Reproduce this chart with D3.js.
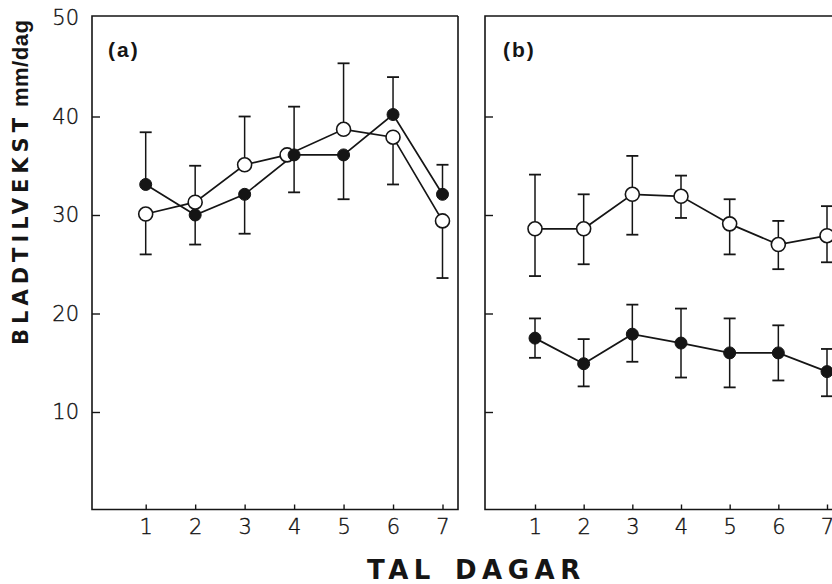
<!DOCTYPE html>
<html>
<head>
<meta charset="utf-8">
<script src="https://cdn.jsdelivr.net/npm/d3@7"></script>
<style>
  html, body { margin: 0; padding: 0; background: #fff; }
  svg { display: block; }
</style>
</head>
<body>
<svg id="chart" width="832" height="584"></svg>
<script>
// Days on the x axis
const days = [1, 2, 3, 4, 5, 6, 7];
const yTickValues = [10, 20, 30, 40, 50];

// Panel (a): two treatments, error bar ends (upper drawn from higher point, lower from lower point)
const aFilled    = [33.1, 30.0, 32.1, 36.1, 36.1, 40.2, 32.1];
const aOpen      = [30.1, 31.3, 35.1, 36.1, 38.7, 37.9, 29.4];
const aBarTop    = [38.4, 35.0, 40.0, 41.0, 45.4, 44.0, 35.1];
const aBarBottom = [26.0, 27.0, 28.1, 32.3, 31.6, 33.1, 23.6];

// Panel (b): each series with its own error range
const bOpen          = [28.6, 28.6, 32.1, 31.9, 29.1, 27.0, 27.9];
const bOpenTop       = [34.1, 32.1, 36.0, 34.0, 31.6, 29.4, 30.9];
const bOpenBottom    = [23.8, 25.0, 28.0, 29.7, 26.0, 24.5, 25.2];
const bFilled        = [17.5, 14.9, 17.9, 17.0, 16.0, 16.0, 14.1];
const bFilledTop     = [19.5, 17.4, 20.9, 20.5, 19.5, 18.8, 16.4];
const bFilledBottom  = [15.5, 12.6, 15.1, 13.5, 12.5, 13.2, 11.6];

const ink = "#151515";
const svg = d3.select("#chart");

const y = d3.scaleLinear().domain([0, 50]).range([510.5, 18]);

const panels = [
  { label: "(a)", left: 92, right: 458, closed: true,  x: d3.scaleLinear().domain([1, 7]).range([145.7, 442.5]), showY: true },
  { label: "(b)", left: 485, right: 860, closed: false, x: d3.scaleLinear().domain([1, 7]).range([535, 827]), showY: false }
];
const frameTop = 16, frameBottom = 509.5;

const tickFont = "'DejaVu Sans', sans-serif";

function drawFrame(g, p) {
  const path = d3.path();
  path.moveTo(p.right, frameTop);
  path.lineTo(p.left, frameTop);
  path.lineTo(p.left, frameBottom);
  path.lineTo(p.right, frameBottom);
  if (p.closed) path.lineTo(p.right, frameTop);
  g.append("path").attr("d", path.toString())
    .attr("fill", "none").attr("stroke", ink).attr("stroke-width", 1.6);
}

function styleTickText(sel) {
  sel.attr("font-family", tickFont).attr("font-weight", 300)
    .attr("font-size", 21).attr("fill", "#111")
    .attr("stroke", "#111").attr("stroke-width", 0.35);
}

function drawAxes(g, p) {
  const yAxis = d3.axisLeft(y).tickValues(yTickValues).tickSize(-8).tickPadding(13)
    .tickFormat(p.showY ? d3.format("d") : () => "");
  const ya = g.append("g").attr("transform", `translate(${p.left},0)`).call(yAxis);
  ya.select(".domain").remove();
  ya.selectAll(".tick line").attr("stroke", ink).attr("stroke-width", 1.4);
  ya.selectAll(".tick").filter(d => d === 50).select("line").remove();
  styleTickText(ya.selectAll("text"));

  const xAxis = d3.axisBottom(p.x).tickValues(days).tickSize(-5).tickPadding(10)
    .tickFormat(d3.format("d"));
  const xa = g.append("g").attr("transform", `translate(0,${frameBottom})`).call(xAxis);
  xa.select(".domain").remove();
  xa.selectAll(".tick line").attr("stroke", ink).attr("stroke-width", 1.4);
  styleTickText(xa.selectAll("text"));

  g.append("text").attr("x", p.left + (p.closed ? 16 : 18)).attr("y", 57)
    .attr("font-family", "'Liberation Sans', Arial, sans-serif").attr("font-weight", "bold")
    .attr("font-size", 21).attr("letter-spacing", 2).attr("fill", ink)
    .text(p.label);
}

function drawLine(g, xs, vals, x, dx) {
  const line = d3.line().x((d, i) => x(xs[i]) + (dx ? dx[i] : 0)).y(d => y(d));
  g.append("path").datum(vals).attr("d", line)
    .attr("fill", "none").attr("stroke", ink).attr("stroke-width", 1.7);
}

function drawBar(g, xPos, from, to) {
  const capW = 6;
  g.append("line").attr("x1", xPos).attr("x2", xPos).attr("y1", y(from)).attr("y2", y(to))
    .attr("stroke", ink).attr("stroke-width", 1.5);
  g.append("line").attr("x1", xPos - capW).attr("x2", xPos + capW).attr("y1", y(to)).attr("y2", y(to))
    .attr("stroke", ink).attr("stroke-width", 1.8);
}

function drawMarkers(g, xs, vals, x, open, dx) {
  g.selectAll(null).data(vals).enter().append("circle")
    .attr("cx", (d, i) => x(xs[i]) + (dx ? dx[i] : 0))
    .attr("cy", d => y(d))
    .attr("r", open ? 7 : 6)
    .attr("fill", open ? "#fff" : ink)
    .attr("stroke", ink).attr("stroke-width", open ? 1.6 : 1);
}

// ---- Panel (a)
{
  const p = panels[0];
  const g = svg.append("g");
  drawFrame(g, p);
  drawAxes(g, p);
  // nudge open markers sideways where both series coincide
  const openShift = aOpen.map((v, i) => Math.abs(v - aFilled[i]) < 0.5 ? -7 : 0);
  drawLine(g, days, aOpen, p.x, openShift);
  drawLine(g, days, aFilled, p.x);
  days.forEach((d, i) => {
    const hi = Math.max(aOpen[i], aFilled[i]);
    const lo = Math.min(aOpen[i], aFilled[i]);
    drawBar(g, p.x(d), hi, aBarTop[i]);
    drawBar(g, p.x(d), lo, aBarBottom[i]);
  });
  drawMarkers(g, days, aOpen, p.x, true, openShift);
  drawMarkers(g, days, aFilled, p.x, false);
}

// ---- Panel (b)
{
  const p = panels[1];
  const g = svg.append("g");
  drawFrame(g, p);
  drawAxes(g, p);
  drawLine(g, days, bOpen, p.x);
  drawLine(g, days, bFilled, p.x);
  days.forEach((d, i) => {
    drawBar(g, p.x(d), bOpen[i], bOpenTop[i]);
    drawBar(g, p.x(d), bOpen[i], bOpenBottom[i]);
    drawBar(g, p.x(d), bFilled[i], bFilledTop[i]);
    drawBar(g, p.x(d), bFilled[i], bFilledBottom[i]);
  });
  drawMarkers(g, days, bOpen, p.x, true);
  drawMarkers(g, days, bFilled, p.x, false);
}

// ---- Axis titles
const titleFont = "'DejaVu Sans', sans-serif";
const yTitle = svg.append("g").attr("transform", "translate(28,345) rotate(-90)");
yTitle.append("text").attr("x", 0).attr("y", 0)
  .attr("font-family", titleFont).attr("font-weight", "bold").attr("font-size", 21)
  .attr("letter-spacing", 5).attr("fill", ink)
  .text("BLADTILVEKST");
yTitle.append("text").attr("x", 238).attr("y", 0)
  .attr("font-family", "'Liberation Sans', Arial, sans-serif").attr("font-weight", "bold")
  .attr("font-size", 22).attr("letter-spacing", 0.5).attr("fill", ink)
  .text("mm/dag");

const xTitleStyle = sel => sel
  .attr("font-family", titleFont).attr("font-weight", "bold").attr("font-size", 26)
  .attr("letter-spacing", 5.5).attr("fill", ink);
svg.append("text").attr("x", 367).attr("y", 579).call(xTitleStyle).text("TAL");
svg.append("text").attr("x", 455).attr("y", 579).call(xTitleStyle).text("DAGAR");
</script>
</body>
</html>
